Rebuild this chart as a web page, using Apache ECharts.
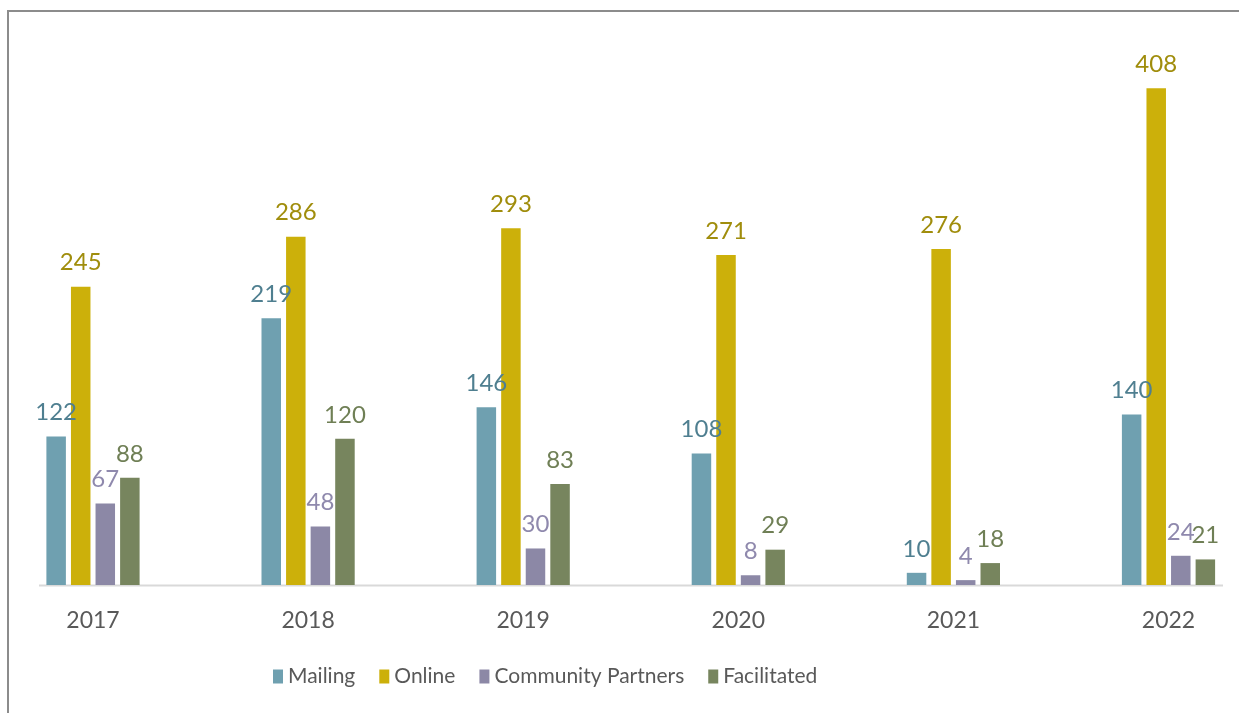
<!DOCTYPE html>
<html>
<head>
<meta charset="utf-8">
<script src="https://cdn.jsdelivr.net/npm/echarts@6/dist/echarts.min.js"></script>
<style>
html,body{margin:0;padding:0;background:#fff;}
#chart{width:1239px;height:713px;}
</style>
</head>
<body>
<div id="chart"></div>
<script>
const years = ['2017','2018','2019','2020','2021','2022'];
const seriesNames = ['Mailing','Online','Community Partners','Facilitated'];
const mailing = [122,219,146,108,10,140];
const online = [245,286,293,271,276,408];
const communityPartners = [67,48,30,8,4,24];
const facilitated = [88,120,83,29,18,21];

const barColors = ['#6fa0b0','#ccb00a','#8c88a6','#77855e'];
const labelColors = ['#4f7f90','#a08d0c','#8f89ad','#6f7f55'];
const dataSets = [mailing, online, communityPartners, facilitated];

const font = 'Lato, "Open Sans", sans-serif';
const chart = echarts.init(document.getElementById('chart'));

chart.setOption({
  animation: false,
  backgroundColor: '#ffffff',
  graphic: [
    { type: 'rect', shape: { x: 8, y: 11, width: 1400, height: 900 },
      style: { fill: 'none', stroke: '#8c8c8c', lineWidth: 2 }, z: 0 },
    { type: 'line', shape: { x1: 39, y1: 585.5, x2: 1223, y2: 585.5 },
      style: { stroke: '#d9d9d9', lineWidth: 2 }, z: 1 }
  ],
  legend: {
    data: seriesNames,
    left: 268,
    top: 661,
    itemWidth: 10,
    itemHeight: 14,
    itemGap: 24,
    icon: 'rect',
    textStyle: { fontFamily: font, fontSize: 21, color: '#595959' }
  },
  grid: { left: 93, right: 70.5, top: 37, bottom: 128, containLabel: false },
  xAxis: {
    type: 'category',
    data: years,
    boundaryGap: false,
    axisLine: { show: false },
    axisTick: { show: false },
    axisLabel: { color: '#595959', fontFamily: font, fontSize: 23, margin: 24 }
  },
  yAxis: {
    type: 'value', min: 0, max: 450, interval: 50, show: false,
    splitLine: { show: false }
  },
  series: seriesNames.map((name, i) => ({
    name: name,
    type: 'bar',
    data: dataSets[i],
    barWidth: 19.5,
    barGap: '26%',
    clip: false,
    itemStyle: { color: barColors[i] },
    label: {
      show: true, position: 'top', distance: 12,
      color: labelColors[i], fontFamily: font, fontSize: 24
    }
  }))
});
</script>
</body>
</html>
